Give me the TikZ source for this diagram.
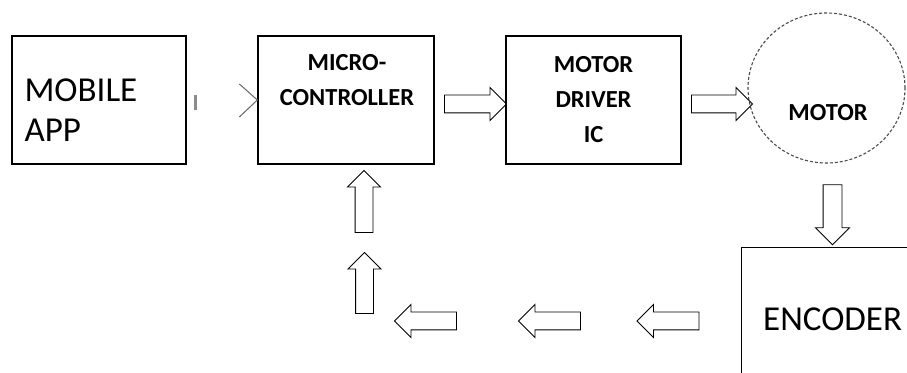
\documentclass[tikz,border=0pt]{standalone}
\usepackage{fontspec}
\setmainfont{Carlito}
\usetikzlibrary{shapes.geometric, shapes.arrows}

\tikzset{
  block/.style={draw, line width=1.3pt, inner sep=0pt},
  big/.style={font=\fontsize{35}{40}\selectfont, inner sep=0pt, align=left},
  bold/.style={font=\bfseries\fontsize{24.5}{35}\selectfont, inner sep=0pt, align=center},
  fat/.style={single arrow, draw, line width=0.9pt, inner xsep=0pt, inner ysep=8.5pt,
    single arrow head extend=7.5pt, single arrow tip angle=90}
}

\begin{document}
\begin{tikzpicture}[x=1pt, y=1pt]
                \useasboundingbox (0,0) rectangle (907,372);
                % boxes
                \node[block, minimum width=174pt, minimum height=128pt] (mobile) at (99,272) {};
                \node[block, minimum width=176pt, minimum height=128pt] (micro) at (346,272) {};
                \node[block, bold, minimum width=175pt, minimum height=128pt] (driver) at (593.5,272) {MOTOR\\DRIVER\\IC};
                \node[ellipse, draw=black!70, densely dashed, line width=1.1pt, inner sep=0pt,
                  minimum width=157pt, minimum height=150pt] (motor) at (826.5,284) {};
                \node[block, anchor=north west, minimum width=300pt, minimum height=200pt] (encoder) at (741,125) {};
                % texts
                \node[big, anchor=west] (mobiletxt) at ([xshift=13pt, yshift=-10.5pt]mobile.west) {MOBILE\\APP};
                \node[bold] (microtxt) at ([xshift=1pt, yshift=20pt]micro.center) {MICRO-\\CONTROLLER};
                \node[bold] (motortxt) at ([xshift=1.5pt, yshift=-24.5pt]motor.center) {MOTOR};
                \node[big, anchor=west] (encodertxt) at (763,53) {ENCODER};
                % mobile app link
                \draw[black!45, line width=3pt] ([xshift=9pt, yshift=5pt]mobile.east) -- ([xshift=9pt, yshift=-10pt]mobile.east);
                \draw[black!60, line width=1pt] ([shift={(-18pt,16pt)}]micro.west) -- (micro.west) -- ([shift={(-18pt,-17pt)}]micro.west);
                % block arrows
                \node[fat, minimum height=62pt] (mc2dr) at (471,268) {};
                \node[fat, minimum height=61pt] (dr2mo) at (717.5,268) {};
                \node[fat, minimum height=60pt, rotate=270, inner ysep=9pt] (mo2en) at (832.5,162) {};
                \node[fat, minimum height=62pt, rotate=90] (up1) at (364,166) {};
                \node[fat, minimum height=61pt, rotate=90] (up2) at (364.5,84.5) {};
                \foreach \x [count=\i] in {430,554,672.5}
                  \node[fat, minimum height=62pt, rotate=180] (back\i) at (\x,51) {};
            \end{tikzpicture}
\end{document}
